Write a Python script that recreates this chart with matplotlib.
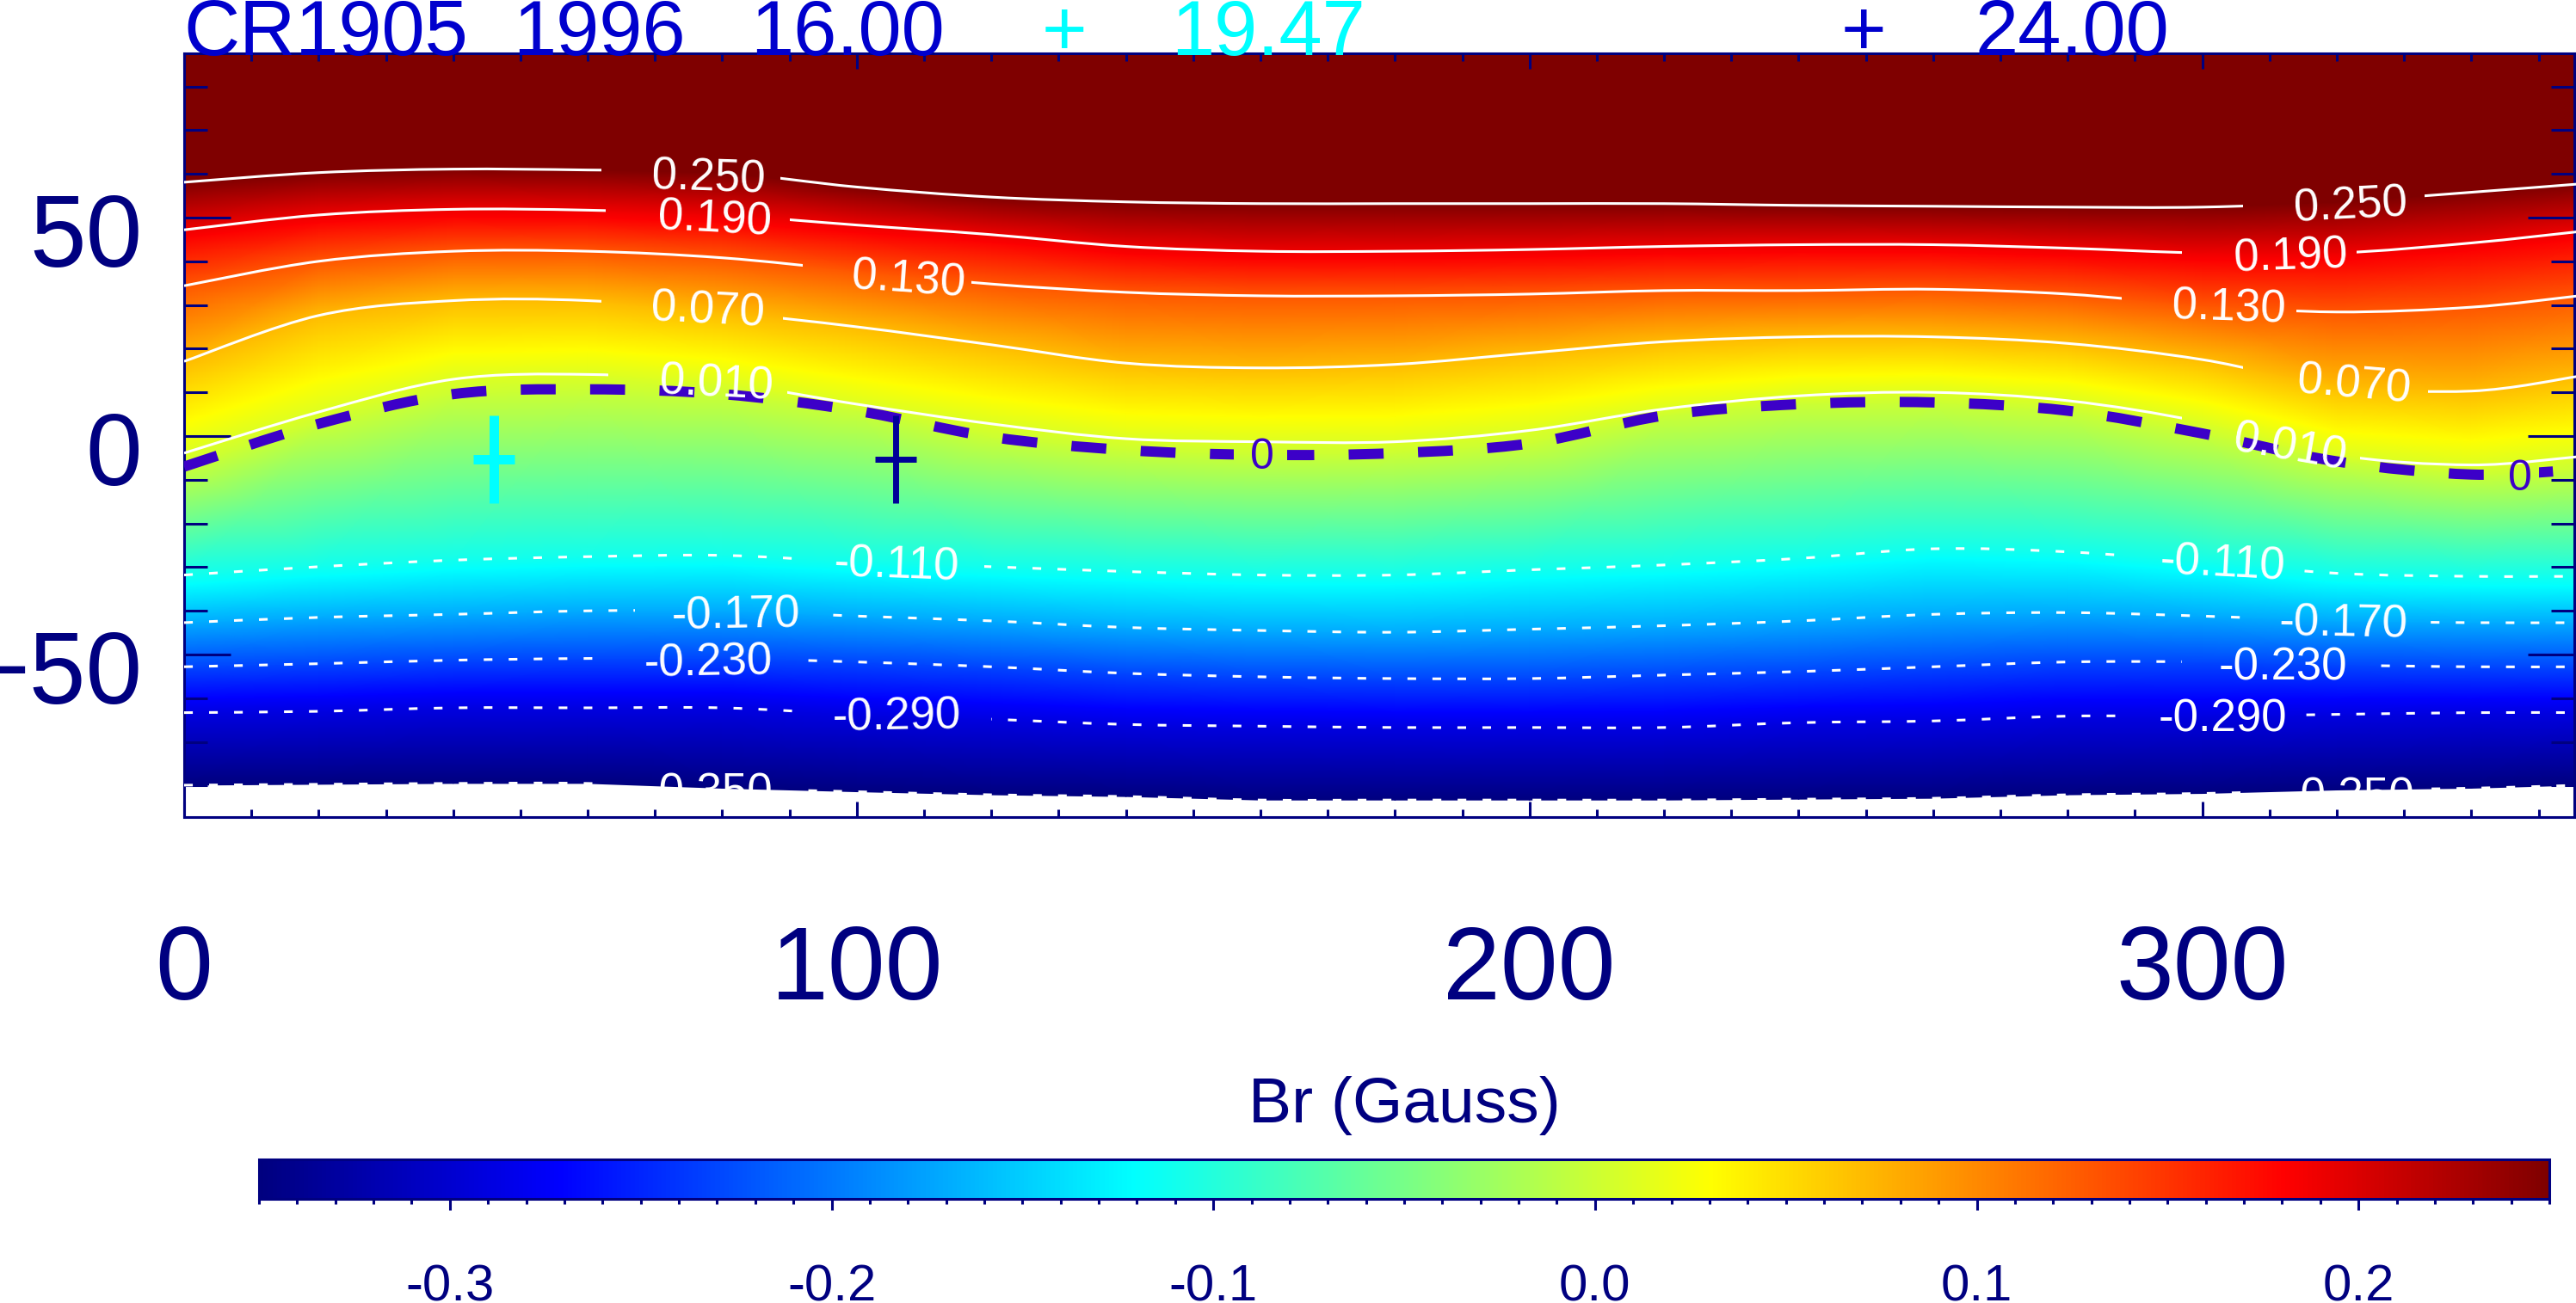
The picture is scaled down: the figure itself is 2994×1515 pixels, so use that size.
import numpy as np
import matplotlib
matplotlib.use("Agg")
import matplotlib.pyplot as plt
from matplotlib.colors import LinearSegmentedColormap
from matplotlib.patches import PathPatch, Rectangle
from matplotlib.path import Path
from matplotlib.ticker import MultipleLocator
from matplotlib.transforms import ScaledTranslation

plt.rcParams['font.family'] = ['Liberation Sans', 'DejaVu Sans']

NAVY = "#000080"
TITLE_BLUE = "#0000cd"
CROSS_BLUE = "#000099"
INDIGO = "#3c00c8"
CYAN = "#00ffff"

# longitudes of the columns
lon = [0, 20, 40, 60, 80, 100, 120, 140, 160, 180, 200, 220, 240, 260, 280, 300, 320, 340, 356]

# latitude of each Br level along those columns
lat_m350 = [-79.9, -79.7, -79.5, -79.5, -80.6, -81.4, -82.1, -82.5, -83.3, -83.3, -83.3, -83.3, -83.1, -82.9, -82.1, -81.8, -81.0, -80.6, -79.9]
lat_m290 = [-63.3, -63.0, -62.2, -62.2, -62.2, -63.7, -64.8, -66.0, -66.4, -66.7, -66.7, -66.7, -65.6, -65.2, -64.1, -64.1, -63.7, -63.3, -63.3]
lat_m271 = [-60.0, -59.5, -58.7, -58.6, -58.6, -59.9, -61.0, -62.3, -62.8, -63.1, -63.1, -62.9, -61.9, -61.3, -60.2, -60.2, -60.1, -60.0, -60.0]
lat_m230 = [-52.8, -52.1, -51.3, -50.9, -50.9, -51.7, -52.8, -54.3, -55.1, -55.5, -55.5, -54.7, -53.9, -52.8, -51.7, -51.7, -52.4, -52.8, -52.8]
lat_m170 = [-42.7, -41.5, -40.8, -40.0, -40.0, -41.2, -42.3, -43.8, -44.5, -44.9, -44.2, -43.4, -42.3, -40.8, -40.4, -41.2, -42.3, -42.7, -42.7]
lat_m121 = [-34.0, -32.1, -30.6, -29.8, -29.5, -31.0, -32.1, -33.2, -34.0, -34.0, -32.8, -31.7, -30.2, -28.0, -28.7, -31.0, -33.6, -34.3, -34.3]
lat_m110 = [-31.8, -29.9, -28.4, -27.6, -27.3, -28.8, -29.9, -31.0, -31.8, -31.8, -30.6, -29.5, -28.0, -25.8, -26.5, -28.8, -31.4, -32.1, -32.1]
lat_zero = [-7.0, 2.8, 9.6, 10.7, 9.6, 5.8, -0.2, -3.2, -4.3, -3.9, -1.7, 4.7, 7.3, 7.7, 5.8, 0.6, -5.8, -8.8, -7.7]
lat_p010 = [-3.9, 5.5, 13.0, 14.1, 12.2, 7.3, 2.8, -0.6, -1.3, -1.3, 1.3, 6.2, 9.2, 10.0, 8.1, 3.2, -4.3, -6.6, -4.7]
lat_p030 = [3.1, 12.9, 19.0, 19.7, 17.6, 13.2, 8.8, 5.2, 4.3, 4.6, 7.2, 11.3, 13.7, 14.2, 12.5, 8.0, 1.0, -1.0, 1.4]
lat_p070 = [17.1, 27.6, 31.0, 31.0, 28.4, 25.0, 20.9, 16.7, 15.6, 16.4, 19.0, 21.6, 22.7, 22.7, 21.2, 17.5, 11.5, 10.3, 13.7]
lat_p130 = [34.4, 40.0, 42.3, 42.3, 40.8, 37.8, 34.8, 32.9, 32.1, 32.1, 32.5, 33.3, 33.3, 33.6, 32.5, 29.9, 28.4, 29.5, 32.1]
lat_p181 = [45.5, 48.9, 50.2, 50.0, 48.9, 46.6, 44.4, 41.7, 40.6, 40.6, 41.0, 41.7, 42.1, 42.1, 41.3, 40.2, 40.2, 42.5, 45.1]
lat_p190 = [47.2, 50.6, 51.9, 51.7, 50.6, 48.3, 46.1, 43.4, 42.3, 42.3, 42.7, 43.4, 43.8, 43.8, 43.0, 41.9, 41.9, 44.2, 46.8]
lat_p250 = [58.1, 60.3, 61.1, 60.9, 60.3, 57.0, 54.7, 53.6, 53.2, 53.2, 53.2, 53.2, 52.8, 52.6, 52.4, 52.4, 53.6, 55.8, 57.7]
lat_top = [88] * len(lon)

shade_rows = [lat_m350, lat_m290, lat_m271, lat_m230, lat_m170, lat_m121, lat_m110, lat_zero,
              lat_p010, lat_p030, lat_p070, lat_p130, lat_p181, lat_p190, lat_p250, lat_top]
shade_vals = [-0.35, -0.29, -0.271, -0.23, -0.17, -0.121, -0.11, 0.0, 0.01, 0.03, 0.07, 0.13, 0.181, 0.19, 0.25, 0.25]

# level text, line, label (lon, lat, rotation) x2, gaps in the line
solid_levels = [
    ("0.250", lat_p250, [(77.9, 59.5, -2), (322, 53.2, 3)], [(62, 88.6), (306, 333)]),
    ("0.190", lat_p190, [(78.9, 50.2, -3), (313.2, 41.5, 2)], [(62.7, 90), (297, 323)]),
    ("0.130", lat_p130, [(107.7, 36.3, -4), (303.9, 29.9, -2)], [(92, 117), (288, 314)]),
    ("0.070", lat_p070, [(77.9, 29.2, -3), (322.5, 12.2, -5)], [(62, 89), (306, 333.5)]),
    ("0.010", lat_p010, [(79.1, 12.6, -3), (313, -2.1, -10)], [(63, 89.6), (297, 323.5)]),
]
dotted_levels = [
    ("-0.110", lat_m110, [(105.9, -29.1, -2), (303, -28.8, -3)], [(92, 119), (287.6, 315)]),
    ("-0.170", lat_m170, [(82, -40.4, 1), (321, -42.3, -1)], [(67, 95.5), (305.7, 333)]),
    ("-0.230", lat_m230, [(77.9, -51.3, 1), (312, -52.4, 0)], [(63, 91), (297, 325.7)]),
    ("-0.290", lat_m290, [(105.9, -63.7, 1), (303, -64.1, 0)], [(91.5, 120), (287.6, 315)]),
    ("-0.350", lat_m350, [(77.9, -81.0, 0), (322, -82.1, 0)], [(63, 91), (306, 333)]),
]
zero_labels = [(160.2, -4.3), (347.2, -9.2)]
zero_gaps = [(156, 164), (344, 350)]

# positions of the two crosses
cross_lon = [46.0, 105.8]
cross_lat = [-5.3, -5.3]

xticks = [0, 100, 200, 300]
yticks = [-50, 0, 50]
cbar_ticks = [-0.3, -0.2, -0.1, 0.0, 0.1, 0.2]

# colour bar: classic jet with the bands a touch shifted
cmap_nodes = [(0.0, "#00007f"), (0.131, "#0000ff"), (0.382, "#00ffff"),
              (0.634, "#ffff00"), (0.885, "#ff0000"), (1.0, "#7f0000")]


def draw_level(ax, x, y, gaps, **style):
    # smooth curve through the read points, one clipped copy per stretch between labels
    pts = np.column_stack([x, y]).astype(float)
    prev = np.vstack([pts[0], pts[:-1]])
    nxt = np.vstack([pts[1:], pts[-1]])
    slope = (nxt - prev) / 6
    verts = [pts[0]]
    for i in range(len(pts) - 1):
        verts += [pts[i] + slope[i], pts[i + 1] - slope[i + 1], pts[i + 1]]
    codes = [Path.MOVETO] + [Path.CURVE4] * (len(verts) - 1)
    start = x[0]
    for g0, g1 in gaps + [(x[-1], x[-1])]:
        patch = PathPatch(Path(verts, codes), fill=False, capstyle='butt', **style)
        ax.add_patch(patch)
        patch.set_clip_path(Rectangle((start, -90), g0 - start, 180, transform=ax.transData))
        start = g1


W, H = 2994, 1515
fig = plt.figure(figsize=(W / 100, H / 100), dpi=100)
ax = fig.add_axes([214 / W, 1 - 950 / H, (2992 - 214) / W, (950 - 62) / H])

br_cmap = LinearSegmentedColormap.from_list("br_jet", cmap_nodes, N=512)
lon_grid = np.array(lon, dtype=float)
X = np.tile(lon_grid, (len(shade_rows), 1))
Y = np.array(shade_rows)
Z = np.tile(np.array(shade_vals)[:, None], (1, len(lon)))
mesh = ax.pcolormesh(X, Y, Z, shading='gouraud', cmap=br_cmap, vmin=-0.35, vmax=0.25, zorder=1)

label_shift = ax.transData + ScaledTranslation(0, -0.035, fig.dpi_scale_trans)

for name, row, spots, gaps in solid_levels + dotted_levels:
    if name.startswith("-"):
        draw_level(ax, lon, row, gaps, edgecolor='white', linewidth=2.2, linestyle=(0, (3.3, 6.2)), zorder=3)
    else:
        draw_level(ax, lon, row, gaps, edgecolor='white', linewidth=2.2, zorder=3)
    for sx, sy, rot in spots:
        ax.text(sx, sy, name, color='white', fontsize=38, rotation=rot, ha='center', va='center',
                rotation_mode='anchor', zorder=5, transform=label_shift)

draw_level(ax, lon, lat_zero, zero_gaps, edgecolor=INDIGO, linewidth=8.6, linestyle=(0, (3.4, 3.35)), zorder=4)
for sx, sy in zero_labels:
    ax.text(sx, sy, "0", color=INDIGO, fontsize=36, ha='center', va='center', zorder=5, transform=label_shift)

ax.errorbar(cross_lon[0], cross_lat[0], xerr=3.07, yerr=10.1, color=CYAN, elinewidth=7.9, capsize=0, zorder=6)
ax.errorbar(cross_lon[1], cross_lat[1], xerr=3.07, yerr=10.1, color=CROSS_BLUE, elinewidth=5, capsize=0, zorder=6)

ax.set_xlim(0, 355.3)
ax.set_ylim(-87.2, 87.6)
ax.set_xticks(xticks)
ax.set_yticks(yticks)
ax.xaxis.set_minor_locator(MultipleLocator(10))
ax.yaxis.set_minor_locator(MultipleLocator(10))
ax.tick_params(axis='x', which='major', direction='in', top=True, bottom=True, length=13, width=2.2,
               color=NAVY, labelcolor=NAVY, labelsize=86.5, pad=90)
ax.tick_params(axis='x', which='minor', direction='in', top=True, bottom=True, length=6.5, width=2.2, color=NAVY)
ax.tick_params(axis='y', which='major', direction='in', left=True, right=True, length=39, width=2.2,
               color=NAVY, labelcolor=NAVY, labelsize=85, pad=35)
ax.tick_params(axis='y', which='minor', direction='in', left=True, right=True, length=19.5, width=2.2, color=NAVY)
for spine in ax.spines.values():
    spine.set_color(NAVY)
    spine.set_linewidth(2.2)
# y labels sit a little below their ticks
for lab in ax.get_yticklabels():
    lab.set_transform(lab.get_transform() + ScaledTranslation(0, -0.14, fig.dpi_scale_trans))
ax.set_axisbelow(False)

cax = fig.add_axes([301 / W, 1 - 1394 / H, (2963 - 301) / W, (1394 - 1348) / H])
cb = fig.colorbar(mesh, cax=cax, orientation='horizontal')
cb.set_ticks(cbar_ticks)
cb.set_ticklabels(["%.1f" % v for v in cbar_ticks])
cb.set_ticks(np.arange(-35, 26) / 100, minor=True)
cb.outline.set_edgecolor(NAVY)
cb.outline.set_linewidth(2.2)
cax.tick_params(axis='x', which='major', length=9.5, width=2.2, color=NAVY, labelcolor=NAVY, labelsize=43, pad=45)
cax.tick_params(axis='x', which='minor', length=4.5, width=2.2, color=NAVY)

fig.text(1632 / W, 1 - 1286 / H, "Br (Gauss)", color=NAVY, fontsize=54, ha='center', va='center')

# title row
y_title = 1 - 64 / H
fig.text(213 / W, y_title, "CR1905", color=TITLE_BLUE, fontsize=65, va='baseline')
fig.text(596 / W, y_title, "1996", color=TITLE_BLUE, fontsize=65, va='baseline')
fig.text(872 / W, y_title, "16.00", color=TITLE_BLUE, fontsize=65, va='baseline')
fig.text(1237 / W, y_title, "+", color=CYAN, fontsize=65, va='baseline', ha='center')
fig.text(1361 / W, y_title, "19.47", color=CYAN, fontsize=65, va='baseline')
fig.text(2166 / W, y_title, "+", color=TITLE_BLUE, fontsize=65, va='baseline', ha='center')
fig.text(2295 / W, y_title, "24.00", color=TITLE_BLUE, fontsize=65, va='baseline')

fig.savefig("out.png", dpi=100)
